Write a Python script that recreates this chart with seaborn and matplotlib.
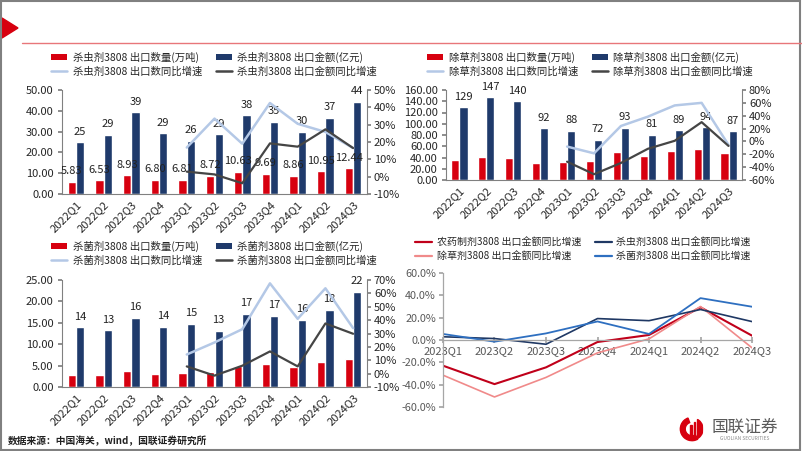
import numpy as np
import pandas as pd
import seaborn as sns
import matplotlib.pyplot as plt
from matplotlib.patches import Patch, Polygon, Rectangle, Wedge, Circle
from matplotlib.lines import Line2D
from matplotlib.ticker import FuncFormatter

# ---- data ----
quarters = ["2022Q1", "2022Q2", "2022Q3", "2022Q4", "2023Q1", "2023Q2",
            "2023Q3", "2023Q4", "2024Q1", "2024Q2", "2024Q3"]
yoy_quarters = quarters[4:]

insect_qty = [5.83, 6.53, 8.93, 6.80, 6.81, 8.72, 10.63, 9.69, 8.86, 10.95, 12.44]
insect_amt = [24.9, 28.6, 39.3, 29.1, 25.6, 28.8, 37.9, 34.7, 29.9, 36.6, 44.4]
insect_qty_yoy = [16.8, 33.5, 19.0, 42.5, 30.5, 25.8, 16.5]
insect_amt_yoy = [2.9, 1.3, -3.8, 19.2, 17.3, 27.3, 16.5]

herb_qty = [35.6, 41.5, 39.7, 30.2, 32.6, 33.8, 50.4, 42.7, 51.6, 55.1, 48.0]
herb_amt = [129.2, 146.8, 139.9, 91.6, 87.8, 71.9, 92.7, 80.8, 88.7, 93.8, 86.6]
herb_qty_yoy = [-8.0, -18.5, 24.0, 38.5, 56.0, 60.0, -5.5]
herb_amt_yoy = [-31.5, -51.0, -33.5, -11.5, 1.0, 30.0, -7.0]

fung_qty = [2.87, 2.80, 3.65, 3.10, 3.26, 3.50, 4.97, 5.28, 4.66, 5.75, 6.60]
fung_amt = [13.98, 13.28, 16.15, 14.13, 14.83, 13.12, 17.08, 16.60, 15.68, 18.00, 22.28]
fung_qty_yoy = [14.3, 23.3, 33.2, 67.5, 41.0, 63.8, 34.0]
fung_amt_yoy = [5.4, -1.5, 5.9, 16.6, 5.4, 37.5, 29.8]

agro_amt_yoy = [-23.0, -39.5, -24.5, -1.8, 4.5, 29.3, 3.9]

RED = "#d7000f"
NAVY = "#1f3a6b"
LIGHT = "#b4c8e6"
DARK = "#454545"
GREY = "#808080"

sns.set_theme(style="white")
plt.rcParams["font.family"] = ["Noto Sans CJK SC", "DejaVu Sans"]
plt.rcParams["axes.unicode_minus"] = False

W, H = 802, 451
fig = plt.figure(figsize=(W / 100, H / 100), dpi=100)


def rect(x0, y0, x1, y1):
    # pixel box (top-left origin) -> figure fraction
    return [x0 / W, 1 - y1 / H, (x1 - x0) / W, (y1 - y0) / H]


def combo(box, name, qty, amt, qty_yoy, amt_yoy, ylim, ystep, y2lim, y2step,
          legend_xy, label_qty=False):
    ax = fig.add_axes(rect(*box))
    df = pd.DataFrame({
        "quarter": quarters * 2,
        "value": qty + amt,
        "metric": ["qty"] * len(qty) + ["amt"] * len(amt),
    })
    sns.barplot(data=df, x="quarter", y="value", hue="metric",
                palette=[RED, NAVY], width=0.6, gap=0, saturation=1,
                legend=False, ax=ax)
    ax.bar_label(ax.containers[1], labels=[f"{v:.0f}" for v in amt],
                 padding=4, fontsize=8, color="#222222")
    if label_qty:
        ax.bar_label(ax.containers[0], labels=[f"{v:.2f}" for v in qty],
                     padding=4, fontsize=8, color="#222222")
    ax.set_xlim(-0.5, len(quarters) - 0.5)
    ax.set_ylim(*ylim)
    ax.set_yticks(np.arange(ylim[0], ylim[1] + 0.01, ystep))
    ax.yaxis.set_major_formatter(FuncFormatter(lambda v, p: f"{v:.2f}"))
    ax.set_xlabel("")
    ax.set_ylabel("")
    ax.set_xticks(range(len(quarters)))
    ax.set_xticklabels(quarters, rotation=45, ha="right", rotation_mode="anchor")
    ax.tick_params(axis="x", length=0, labelsize=8, pad=4)
    ax.tick_params(axis="y", length=3, direction="out", color=GREY,
                   labelsize=8, left=True, pad=3)

    ax2 = ax.twinx()
    xs = list(range(4, 11))
    sns.lineplot(x=xs, y=qty_yoy, ax=ax2, color=LIGHT, lw=1.8)
    sns.lineplot(x=xs, y=amt_yoy, ax=ax2, color=DARK, lw=1.6)
    ax2.set_xlim(-0.5, len(quarters) - 0.5)
    ax2.set_ylim(*y2lim)
    ax2.set_yticks(np.arange(y2lim[0], y2lim[1] + 0.01, y2step))
    ax2.yaxis.set_major_formatter(FuncFormatter(lambda v, p: f"{v:.0f}%"))
    ax2.set_ylabel("")
    ax2.tick_params(axis="y", length=3, direction="out", color=GREY,
                    labelsize=8, right=True, pad=2)

    for a in (ax, ax2):
        a.spines["top"].set_visible(False)
        for s in ("left", "right", "bottom"):
            a.spines[s].set_color(GREY)
            a.spines[s].set_linewidth(0.8)
    ax2.spines["left"].set_visible(False)
    ax2.spines["bottom"].set_visible(False)
    ax.spines["right"].set_visible(False)

    handles = [
        Patch(facecolor=RED, edgecolor="none"),
        Line2D([0], [0], color=LIGHT, lw=1.8),
        Patch(facecolor=NAVY, edgecolor="none"),
        Line2D([0], [0], color=DARK, lw=1.8),
    ]
    labels = [f"{name}3808 出口数量(万吨)", f"{name}3808 出口数同比增速",
              f"{name}3808 出口金额(亿元)", f"{name}3808 出口金额同比增速"]
    ax.legend(handles, labels, ncol=2, loc="center",
              bbox_to_anchor=(legend_xy[0] / W, 1 - legend_xy[1] / H),
              bbox_transform=fig.transFigure, frameon=False, fontsize=7.5,
              handlelength=1.6, handleheight=0.6, handletextpad=0.5,
              columnspacing=1.3, labelspacing=0.35)
    return ax


combo((62, 90, 367, 194), "杀虫剂", insect_qty, insect_amt, insect_qty_yoy,
      insect_amt_yoy, (0, 50), 10, (-10, 50), 10, (214, 64), label_qty=True)
combo((446, 90, 742, 180), "除草剂", herb_qty, herb_amt, herb_qty_yoy,
      herb_amt_yoy, (0, 160), 20, (-60, 80), 20, (590, 64))
combo((62, 280, 367, 387), "杀菌剂", fung_qty, fung_amt, fung_qty_yoy,
      fung_amt_yoy, (0, 25), 5, (-10, 70), 10, (214, 253))

# ---- bottom right: export value yoy of all formulations ----
axr = fig.add_axes(rect(443, 273, 752, 407))
series = [
    ("农药制剂3808 出口金额同比增速", agro_amt_yoy, "#c0001a", 1.5),
    ("除草剂3808 出口金额同比增速", herb_amt_yoy, "#f08a8a", 1.2),
    ("杀虫剂3808 出口金额同比增速", insect_amt_yoy, "#1f3864", 1.2),
    ("杀菌剂3808 出口金额同比增速", fung_amt_yoy, "#2e6fc0", 1.3),
]
for label, vals, color, lw in series:
    sns.lineplot(x=list(range(len(yoy_quarters))), y=vals, ax=axr,
                 color=color, lw=lw)
axr.set_xlim(0, len(yoy_quarters) - 1)
axr.set_ylim(-60, 60)
axr.set_yticks(np.arange(-60, 61, 20))
axr.yaxis.set_major_formatter(FuncFormatter(lambda v, p: f"{v:.1f}%"))
axr.set_xticks(range(len(yoy_quarters)))
axr.set_xticklabels(yoy_quarters)
axr.spines["bottom"].set_position(("data", 0))
axr.spines["top"].set_visible(False)
axr.spines["right"].set_visible(False)
for s in ("left", "bottom"):
    axr.spines[s].set_color("#a6a6a6")
    axr.spines[s].set_linewidth(0.9)
axr.tick_params(axis="x", direction="inout", length=5, color="#a6a6a6",
                labelsize=8, labelcolor="#595959", pad=2, bottom=True)
axr.tick_params(axis="y", direction="out", length=3, color="#a6a6a6",
                labelsize=7.8, labelcolor="#595959", left=True, pad=2)
axr.set_xlabel("")
axr.set_ylabel("")
axr.legend([Line2D([0], [0], color=c, lw=1.6) for _, _, c, _ in series],
           [s[0] for s in series], ncol=2, loc="center",
           bbox_to_anchor=(583 / W, 1 - 249.5 / H),
           bbox_transform=fig.transFigure, frameon=False, fontsize=7.2,
           handlelength=1.7, handletextpad=0.5, columnspacing=1.3,
           labelspacing=0.4)

# ---- page decoration ----
fig.add_artist(Polygon([(2 / W, 1 - 18 / H), (2 / W, 1 - 38 / H), (18 / W, 1 - 28 / H)],
                       closed=True, color="#d7000f", transform=fig.transFigure))
fig.add_artist(Line2D([22 / W, 1], [1 - 43 / H, 1 - 43 / H], color="#e8767a",
                      lw=1.0, transform=fig.transFigure))
fig.add_artist(Rectangle((0.001, 0.003), 0.997, 0.994, fill=False,
                         edgecolor=GREY, lw=1.5, transform=fig.transFigure))
fig.text(8 / W, 1 - 441 / H, "数据来源：中国海关，wind，国联证券研究所",
         fontsize=7, fontweight="bold", va="center", ha="left", color="#222222")

# logo: red crescent plus rising bars clipped to a circle
logo = fig.add_axes(rect(678, 413, 706, 445))
logo.set_aspect("equal")
logo.set_xlim(-1.2, 1.2)
logo.set_ylim(-1.2, 1.2)
logo.axis("off")
logo.add_patch(Wedge((0, 0), 1.0, 110, 300, width=0.42, color="#d7000f"))
clip = Circle((0, 0), 1.0, transform=logo.transData)
for i, top in enumerate([0.35, 0.6, 0.85, 1.0]):
    bar = Rectangle((-0.15 + i * 0.28, -1.0), 0.16, 1.0 + top,
                    color="#d7000f")
    logo.add_patch(bar)
    bar.set_clip_path(clip)
fig.text(745 / W, 1 - 427 / H, "国联证券", fontsize=12, color="#595959",
         ha="center", va="center")
fig.text(745 / W, 1 - 439 / H, "GUOLIAN SECURITIES", fontsize=3.5,
         color="#8c8c8c", ha="center", va="center")

fig.savefig("out.png", dpi=100)
